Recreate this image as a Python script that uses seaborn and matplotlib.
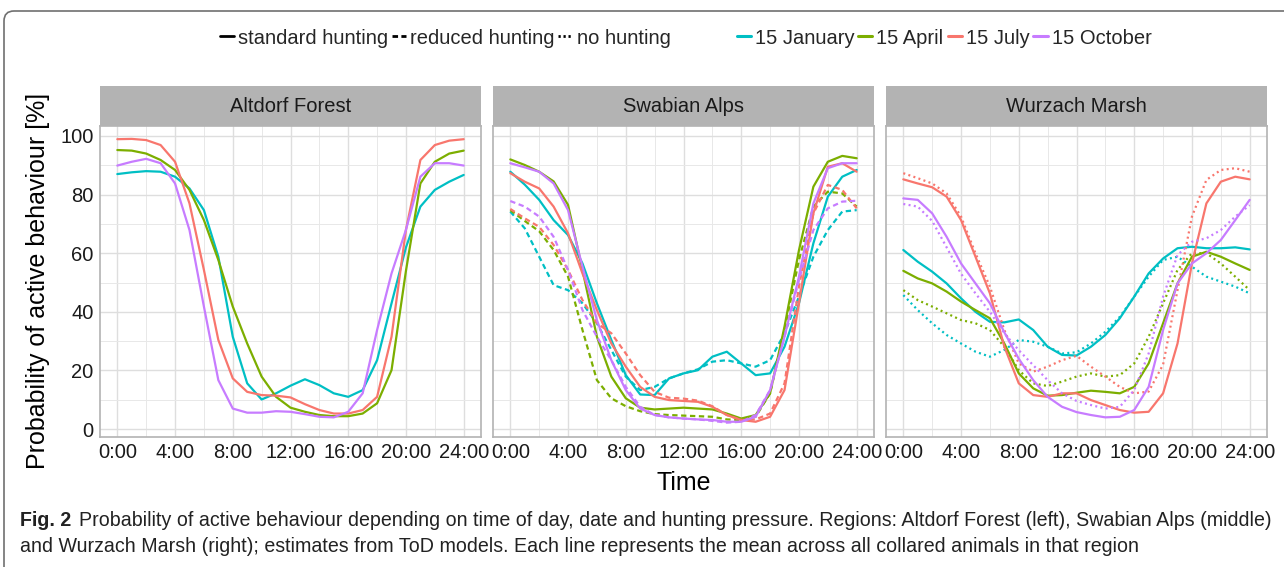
import pandas as pd
import seaborn as sns
import matplotlib.pyplot as plt
from matplotlib.patches import Rectangle, FancyBboxPatch
from matplotlib.lines import Line2D

# hourly estimates (0:00 ... 24:00)
hours = list(range(25))
regions = ['Altdorf Forest', 'Swabian Alps', 'Wurzach Marsh']
dates = ['15 January', '15 April', '15 July', '15 October']
hunting = ['standard hunting', 'reduced hunting', 'no hunting']
date_colors = ['#00BFC4', '#7CAE00', '#F8766D', '#C77CFF']
xtick_vals = [0, 4, 8, 12, 16, 20, 24]
xtick_labels = ['0:00', '4:00', '8:00', '12:00', '16:00', '20:00', '24:00']
ytick_vals = [0, 20, 40, 60, 80, 100]

# Altdorf Forest - standard hunting
alt_jan = [87.0, 87.6, 88.0, 87.8, 86.1, 82.1, 74.7, 58.8, 31.5, 15.6, 10.1, 12.2, 14.8,
           17.0, 15.0, 12.2, 11.0, 13.3, 23.5, 42.9, 62.0, 75.9, 81.6, 84.4, 86.7]
alt_apr = [95.2, 95.0, 94.0, 91.8, 88.4, 81.6, 71.3, 57.7, 41.8, 29.2, 17.9, 11.0, 7.3,
           5.9, 4.8, 4.4, 4.4, 5.3, 8.8, 20.1, 54.0, 83.8, 91.2, 94.0, 95.0]
alt_jul = [98.9, 99.0, 98.6, 96.9, 91.2, 77.0, 54.3, 30.4, 17.3, 12.7, 11.6, 11.4, 10.8,
           8.5, 6.5, 5.3, 5.3, 6.5, 11.0, 31.5, 68.0, 91.8, 96.9, 98.4, 98.9]
alt_oct = [89.9, 91.2, 92.2, 90.7, 83.8, 67.9, 41.8, 16.7, 7.0, 5.6, 5.6, 6.1, 5.9,
           5.1, 4.2, 4.0, 5.9, 12.2, 33.8, 53.1, 68.0, 86.1, 90.7, 90.7, 89.9]

# Swabian Alps - standard hunting
swa_jan_std = [87.8, 83.4, 78.2, 71.3, 66.2, 56.5, 42.9, 30.4, 18.4, 11.8, 11.6, 17.3, 19.0,
               20.1, 24.7, 26.4, 22.4, 18.4, 19.0, 28.1, 42.9, 63.4, 79.3, 86.1, 88.4]
swa_apr_std = [92.0, 90.1, 87.8, 84.5, 76.5, 54.3, 31.5, 17.9, 10.5, 7.3, 6.7, 7.0, 7.3,
               7.0, 6.7, 5.3, 3.6, 4.8, 12.2, 35.0, 61.0, 82.7, 91.2, 93.2, 92.4]
swa_jul_std = [87.3, 84.4, 82.1, 75.9, 66.8, 53.1, 40.6, 29.2, 21.3, 14.4, 11.0, 9.9, 9.6,
               9.3, 7.6, 4.8, 3.1, 2.5, 4.2, 13.3, 42.9, 73.6, 89.5, 90.7, 87.8]
swa_oct_std = [90.7, 89.3, 87.8, 83.8, 74.7, 55.4, 37.2, 23.5, 13.3, 7.0, 4.8, 4.0, 3.6,
               3.3, 3.1, 2.5, 2.5, 4.2, 13.3, 31.5, 52.0, 77.0, 89.0, 90.7, 90.7]
# Swabian Alps - reduced hunting
swa_jan_red = [74.2, 68.5, 58.8, 49.1, 47.4, 42.9, 36.1, 27.0, 17.9, 13.3, 14.4, 17.3, 19.0,
               20.4, 23.0, 23.5, 22.4, 21.3, 23.5, 32.7, 45.2, 58.8, 67.9, 74.2, 74.7]
swa_apr_red = [74.7, 71.0, 67.5, 61.1, 52.0, 33.8, 16.7, 10.5, 7.8, 6.1, 5.1, 4.8, 4.6,
               4.4, 4.2, 3.3, 3.1, 4.2, 12.2, 33.8, 57.7, 75.9, 81.0, 80.4, 75.9]
swa_jul_red = [75.1, 71.9, 69.0, 62.8, 54.3, 44.0, 36.1, 32.7, 25.8, 18.4, 12.7, 10.7, 10.4,
               9.7, 7.8, 4.8, 3.1, 3.3, 5.3, 15.6, 48.6, 73.6, 83.3, 81.6, 75.3]
swa_oct_red = [77.8, 75.9, 72.5, 65.6, 54.3, 40.6, 31.5, 23.5, 14.4, 7.6, 4.8, 4.0, 3.6,
               3.3, 2.8, 2.2, 2.5, 4.8, 13.3, 31.5, 50.9, 67.9, 75.3, 77.6, 77.9]

# Wurzach Marsh - standard hunting
wur_jan_std = [61.1, 57.1, 53.7, 49.7, 44.6, 40.0, 36.6, 36.4, 37.4, 33.8, 28.1, 25.3, 25.1,
               28.1, 32.1, 37.8, 45.2, 53.1, 58.2, 61.7, 62.2, 61.7, 61.7, 62.0, 61.3]
wur_apr_std = [54.0, 51.4, 49.7, 46.9, 43.5, 40.6, 37.8, 29.2, 19.0, 13.9, 11.4, 11.6, 12.4,
               13.1, 12.7, 12.2, 14.4, 22.4, 36.1, 49.7, 58.8, 60.5, 58.8, 56.5, 54.3]
wur_jul_std = [85.2, 83.8, 82.5, 79.3, 71.3, 58.8, 46.3, 28.1, 15.6, 11.6, 11.0, 12.2, 12.2,
               9.9, 8.2, 6.5, 5.6, 5.9, 12.2, 29.2, 56.5, 77.0, 84.4, 86.1, 85.2]
wur_oct_std = [78.7, 78.2, 73.6, 65.6, 56.5, 49.7, 42.9, 33.0, 24.0, 16.7, 11.0, 7.6, 5.8,
               4.8, 4.0, 4.2, 6.5, 14.4, 33.8, 49.7, 56.5, 60.0, 64.5, 71.3, 78.2]
# Wurzach Marsh - no hunting
wur_jan_no = [45.7, 40.6, 36.1, 32.1, 29.2, 26.4, 24.7, 27.0, 30.4, 29.8, 28.1, 25.8, 26.2,
              29.2, 33.2, 38.3, 45.2, 52.0, 57.7, 58.8, 55.4, 52.0, 50.3, 48.6, 46.3]
wur_apr_no = [47.4, 44.0, 41.8, 39.5, 37.2, 36.1, 33.8, 28.1, 20.1, 15.6, 14.7, 16.2, 17.9,
              19.0, 17.9, 18.4, 22.4, 31.5, 42.9, 54.3, 60.0, 60.0, 56.5, 52.0, 47.4]
wur_jul_no = [87.3, 85.6, 83.8, 80.4, 72.5, 60.0, 48.6, 33.8, 22.4, 19.6, 21.3, 23.5, 25.0,
              21.3, 17.9, 14.4, 12.2, 12.8, 22.0, 47.4, 72.5, 85.0, 88.4, 89.0, 87.8]
wur_oct_no = [76.8, 75.9, 71.0, 62.0, 53.0, 46.3, 40.0, 32.7, 26.9, 21.8, 16.7, 12.2, 9.6,
              8.2, 7.0, 7.6, 13.3, 25.8, 45.2, 59.4, 63.9, 65.1, 67.9, 72.5, 76.4]

series = [
    ('Altdorf Forest', 'standard hunting', [alt_jan, alt_apr, alt_jul, alt_oct]),
    ('Swabian Alps', 'standard hunting', [swa_jan_std, swa_apr_std, swa_jul_std, swa_oct_std]),
    ('Swabian Alps', 'reduced hunting', [swa_jan_red, swa_apr_red, swa_jul_red, swa_oct_red]),
    ('Wurzach Marsh', 'standard hunting', [wur_jan_std, wur_apr_std, wur_jul_std, wur_oct_std]),
    ('Wurzach Marsh', 'no hunting', [wur_jan_no, wur_apr_no, wur_jul_no, wur_oct_no]),
]
rows = []
for region, hunt, vals in series:
    for date, v in zip(dates, vals):
        for h, p in zip(hours, v):
            rows.append({'region': region, 'hunting': hunt, 'date': date, 'hour': h, 'prob': p})
df = pd.DataFrame(rows)

sns.set_theme(style='white')
plt.rcParams['font.family'] = ['Liberation Sans', 'DejaVu Sans']

W, H = 1284, 567
fig = plt.figure(figsize=(W / 100, H / 100), dpi=100)
fig.patch.set_facecolor('white')

dash_map = {'standard hunting': '', 'reduced hunting': (2.4, 1.6), 'no hunting': (0.9, 1.5)}
panel_left = [100, 493, 886]
panel_w = 381
top_px, bot_px = 126, 437
strip_h = 40 / (bot_px - top_px)

for i, region in enumerate(regions):
    ax = fig.add_axes([panel_left[i] / W, (H - bot_px) / H, panel_w / W, (bot_px - top_px) / H])
    sub = df[df['region'] == region]
    sns.lineplot(data=sub, x='hour', y='prob', hue='date', style='hunting',
                 hue_order=dates, style_order=hunting, palette=date_colors,
                 dashes=dash_map, estimator=None, legend=False, ax=ax, linewidth=1.6)
    ax.set_xlim(-1.2, 25.2)
    ax.set_ylim(-2.7, 103.4)
    ax.set_xticks(xtick_vals)
    ax.set_xticklabels(xtick_labels)
    ax.set_xticks([2, 6, 10, 14, 18, 22], minor=True)
    ax.set_yticks(ytick_vals)
    ax.set_yticks([10, 30, 50, 70, 90], minor=True)
    if i > 0:
        ax.set_yticklabels([])
        ax.tick_params(axis='y', length=0)
    ax.grid(which='major', color='#DEDEDE', linewidth=1.0)
    ax.grid(which='minor', color='#E8E8E8', linewidth=0.7)
    ax.set_axisbelow(True)
    ax.tick_params(which='major', length=2.5, width=1, color='#B3B3B3',
                   labelsize=14.5, labelcolor='#1A1A1A', pad=2)
    ax.tick_params(which='minor', length=0)
    for s in ax.spines.values():
        s.set_color('#B3B3B3')
        s.set_linewidth(1.2)
    ax.set_xlabel('')
    ax.set_ylabel('')
    ax.add_patch(Rectangle((0, 1), 1, strip_h, transform=ax.transAxes, clip_on=False,
                           facecolor='#B3B3B3', edgecolor='none'))
    ax.text(0.5, 1 + strip_h / 2, region, transform=ax.transAxes, ha='center', va='center',
            fontsize=14.5, color='#1A1A1A')

fig.text(684 / W, 1 - 483 / H, 'Time', ha='center', va='center', fontsize=18, color='black')
fig.text(38 / W, 1 - 281 / H, 'Probability of active behaviour [%]', rotation=90,
         ha='center', va='center', fontsize=18, color='black')

# legends
lt_handles = [Line2D([], [], color='black', lw=2, linestyle='-'),
              Line2D([], [], color='black', lw=2, dashes=(2, 1.2)),
              Line2D([], [], color='black', lw=2, dashes=(0.8, 1.0))]
leg1 = fig.legend(lt_handles, hunting, loc='center', bbox_to_anchor=(445 / W, 1 - 38 / H),
                  ncol=3, frameon=False, handlelength=0.7, handletextpad=0.2,
                  columnspacing=0.2, fontsize=14.5)
col_handles = [Line2D([], [], color=c, lw=2.2) for c in date_colors]
fig.legend(col_handles, dates, loc='center', bbox_to_anchor=(944 / W, 1 - 38 / H),
           ncol=4, frameon=False, handlelength=0.7, handletextpad=0.2,
           columnspacing=0.2, fontsize=14.5)

# outer frame
frame = FancyBboxPatch((0.04, -0.25), 13.0, 5.81, boxstyle='round,pad=0,rounding_size=0.1',
                       transform=fig.dpi_scale_trans, facecolor='none',
                       edgecolor='#707070', linewidth=1.2)
fig.patches.append(frame)

# caption
cap1 = ('Probability of active behaviour depending on time of day, date and hunting pressure. '
        'Regions: Altdorf Forest (left), Swabian Alps (middle)')
cap2 = ('and Wurzach Marsh (right); estimates from ToD models. Each line represents the mean '
        'across all collared animals in that region')
cap_font = ['Liberation Sans Narrow', 'Liberation Sans', 'DejaVu Sans']
renderer = fig.canvas.get_renderer()
fs = 11
t_bold = fig.text(20 / W, 1 - 521 / H, 'Fig. 2', fontweight='bold', fontsize=fs,
                  family=cap_font, va='center', color='#222222')
bb = t_bold.get_window_extent(renderer)
t1 = fig.text((bb.x1 + 8) / W, 1 - 521 / H, cap1, fontsize=fs, family=cap_font,
              va='center', color='#222222')
bb1 = t1.get_window_extent(renderer)
scale = (1262 - 20) / (bb1.x1 - bb.x0)
fs = fs * scale
t_bold.set_fontsize(fs)
bb = t_bold.get_window_extent(renderer)
t1.set_fontsize(fs)
t1.set_x((bb.x1 + 8) / W)
fig.text(20 / W, 1 - 547 / H, cap2, fontsize=fs, family=cap_font, va='center', color='#222222')

fig.savefig('out.png', dpi=100, facecolor='white')
